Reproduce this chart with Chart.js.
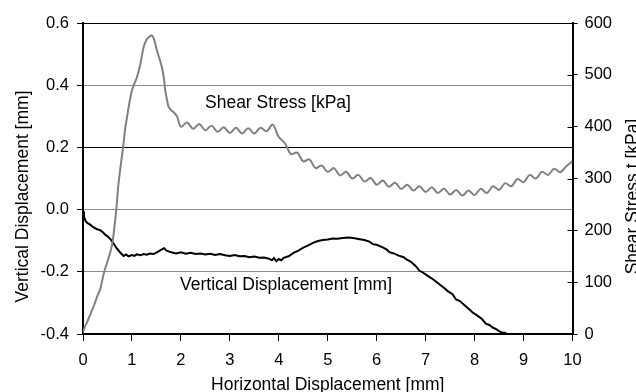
<!DOCTYPE html>
<html>
<head>
<meta charset="utf-8">
<script src="https://cdn.jsdelivr.net/npm/chart.js@4/dist/chart.umd.min.js"></script>
<style>
  html, body { margin: 0; padding: 0; background: #fff; }
  #wrap { width: 636px; height: 392px; position: relative; }
</style>
</head>
<body>
<div id="wrap"><canvas id="shearChart"></canvas></div>
<script>
// horizontal displacement [mm] vs shear stress [kPa]
const shearX = [
    0, 0.03, 0.08, 0.15, 0.22, 0.3, 0.35, 0.43, 0.5, 0.59,
    0.64, 0.68, 0.72, 0.77, 0.82, 0.86, 0.9, 0.95, 1.0, 1.05,
    1.1, 1.17, 1.24, 1.3, 1.36, 1.41, 1.46, 1.51, 1.56, 1.61,
    1.65, 1.68, 1.72, 1.75, 1.8, 1.85, 1.92,
    2.0, 2.125, 2.25, 2.375, 2.5, 2.625, 2.75, 2.875,
    3.0, 3.125, 3.25, 3.375, 3.5, 3.625, 3.75, 3.875,
    4.0, 4.125, 4.25, 4.375, 4.5, 4.625, 4.75, 4.875,
    5.0, 5.125, 5.25, 5.375, 5.5, 5.625, 5.75, 5.875,
    6.0, 6.125, 6.25, 6.375, 6.5, 6.625, 6.75, 6.875,
    7.0, 7.125, 7.25, 7.375, 7.5, 7.625, 7.75, 7.875,
    8.0, 8.125, 8.25, 8.375, 8.5, 8.625, 8.75, 8.875,
    9.0, 9.125, 9.25, 9.375, 9.5, 9.625, 9.75, 9.875,
    10.0
];
const shearY = [
    3, 12, 22, 38, 54, 75, 86, 119, 140, 170,
    205, 240, 285, 325, 361, 395, 419, 447, 470, 483,
    495, 520, 554, 568, 574, 576, 566, 547, 532, 515,
    495, 470, 450, 438, 432, 428, 420,
    400, 408, 396, 405, 393, 402, 390, 399,
    388, 398, 387, 397, 387, 398, 391, 404,
    380, 368, 347, 350, 333, 337, 320, 325,
    313, 320, 306, 313, 300, 307, 294, 301,
    288, 296, 284, 292, 280, 288, 277, 285,
    274, 283, 272, 280, 269, 278, 267, 277,
    268, 280, 272, 285, 278, 291, 285, 299,
    293, 307, 300, 313, 307, 319, 312, 324,
    333
];

// horizontal displacement [mm] vs vertical displacement [mm]
const vertX = [
    0, 0.02, 0.05, 0.08, 0.12, 0.16, 0.2, 0.25, 0.3, 0.35,
    0.4, 0.45, 0.5, 0.56, 0.62, 0.69, 0.76, 0.83, 0.88, 0.93,
    1.0, 1.05, 1.1, 1.17, 1.24, 1.3, 1.37, 1.44, 1.5, 1.56,
    1.62, 1.66, 1.7, 1.76, 1.82, 1.9, 2.0, 2.1, 2.2, 2.3,
    2.4, 2.5, 2.6, 2.7, 2.8, 2.9, 3.0, 3.1, 3.2, 3.3,
    3.4, 3.5, 3.6, 3.7, 3.8, 3.86, 3.9, 3.95, 4.0, 4.05,
    4.1, 4.2, 4.3, 4.4, 4.5, 4.6, 4.71, 4.8, 4.9, 5.0,
    5.1, 5.2, 5.3, 5.44, 5.55, 5.65, 5.75, 5.85, 5.92, 6.0,
    6.1, 6.2, 6.26, 6.35, 6.45, 6.55, 6.6, 6.7, 6.8, 6.87,
    6.95, 7.05, 7.15, 7.28, 7.38, 7.45, 7.55, 7.62, 7.7, 7.8,
    7.9, 7.96, 8.05, 8.15, 8.23, 8.3, 8.38, 8.45, 8.5, 8.56,
    8.62, 8.66
];
const vertY = [
    -0.005, -0.022, -0.036, -0.042, -0.046, -0.050, -0.056, -0.060, -0.064, -0.066,
    -0.072, -0.080, -0.086, -0.095, -0.108, -0.125, -0.138, -0.149, -0.144, -0.150,
    -0.146, -0.149, -0.144, -0.147, -0.143, -0.145, -0.141, -0.143, -0.138, -0.133,
    -0.127, -0.124, -0.131, -0.135, -0.138, -0.141, -0.137, -0.142, -0.139, -0.143,
    -0.141, -0.144, -0.142, -0.146, -0.143, -0.147, -0.149, -0.146, -0.150, -0.149,
    -0.153, -0.151, -0.155, -0.154, -0.158, -0.163, -0.156, -0.166, -0.159, -0.163,
    -0.155, -0.150, -0.139, -0.132, -0.122, -0.115, -0.106, -0.101, -0.098, -0.096,
    -0.093, -0.094, -0.091, -0.090, -0.092, -0.095, -0.098, -0.103, -0.111, -0.113,
    -0.120, -0.128, -0.137, -0.141, -0.148, -0.153, -0.159, -0.168, -0.182, -0.196,
    -0.203, -0.214, -0.224, -0.240, -0.252, -0.262, -0.272, -0.289, -0.294, -0.308,
    -0.322, -0.331, -0.340, -0.352, -0.367, -0.371, -0.380, -0.385, -0.391, -0.395,
    -0.396, -0.400
];

const seriesLabels = ['Shear Stress [kPa]', 'Vertical Displacement [mm]'];
const xTitle = 'Horizontal Displacement [mm]';
const yTitle = 'Vertical Displacement [mm]';
const y1Title = 'Shear Stress t [kPa]';

const FONT = '"Liberation Sans", Arial, sans-serif';

const toPoints = (xs, ys) => xs.map((x, i) => ({ x: x, y: ys[i] }));

// inline series labels, axis titles and the inner half of the right ticks
const overlay = {
    id: 'overlay',
    afterDraw(chart) {
        const { ctx, chartArea, scales } = chart;
        ctx.save();
        ctx.strokeStyle = '#000';
        ctx.lineWidth = 1;
        scales.y1.ticks.forEach(t => {
            const py = Math.round(scales.y1.getPixelForValue(t.value)) + 0.5;
            ctx.beginPath();
            ctx.moveTo(chartArea.right - 5, py);
            ctx.lineTo(chartArea.right, py);
            ctx.stroke();
        });

        ctx.fillStyle = '#000';
        ctx.font = '17.5px ' + FONT;
        ctx.textBaseline = 'alphabetic';
        ctx.textAlign = 'left';
        ctx.fillText(seriesLabels[0], 205, 108);
        ctx.fillText(seriesLabels[1], 180, 290);

        ctx.textAlign = 'center';
        ctx.fillText(xTitle, (chartArea.left + chartArea.right) / 2, 390);

        ctx.save();
        ctx.translate(27.5, 196.5);
        ctx.rotate(-Math.PI / 2);
        ctx.fillText(yTitle, 0, 0);
        ctx.restore();

        ctx.save();
        ctx.translate(637.5, 196.5);
        ctx.rotate(-Math.PI / 2);
        ctx.fillText(y1Title, 0, 0);
        ctx.restore();
        ctx.restore();
    }
};

const ctx = document.getElementById('shearChart').getContext('2d');

new Chart(ctx, {
    type: 'line',
    data: {
        datasets: [
            {
                label: seriesLabels[0],
                data: toPoints(shearX, shearY),
                yAxisID: 'y1',
                borderColor: '#808080',
                borderWidth: 2,
                pointRadius: 0,
                tension: 0.35
            },
            {
                label: seriesLabels[1],
                data: toPoints(vertX, vertY),
                yAxisID: 'y',
                borderColor: '#000',
                borderWidth: 2,
                pointRadius: 0,
                tension: 0
            }
        ]
    },
    options: {
        responsive: true,
        maintainAspectRatio: false,
        animation: false,
        layout: { padding: { top: 23, right: 0, bottom: 0, left: 0 } },
        plugins: {
            legend: { display: false },
            tooltip: { enabled: false }
        },
        scales: {
            x: {
                type: 'linear',
                min: 0,
                max: 10,
                ticks: {
                    stepSize: 1,
                    color: '#000',
                    padding: 10,
                    maxRotation: 0,
                    font: { family: FONT, size: 16.5 }
                },
                grid: { drawOnChartArea: false, tickLength: 7, tickColor: '#000' },
                border: { color: '#000', width: 2 },
                afterFit: s => { s.height = 58; }
            },
            y: {
                position: 'left',
                min: -0.4,
                max: 0.6,
                ticks: {
                    stepSize: 0.2,
                    color: '#000',
                    padding: 8,
                    font: { family: FONT, size: 16.5 },
                    callback: v => v.toFixed(1)
                },
                grid: {
                    drawOnChartArea: true,
                    tickLength: 6,
                    tickColor: '#000',
                    lineWidth: 1,
                    color: c => {
                        const v = c.tick ? c.tick.value : 0;
                        return (Math.abs(v - 0.2) < 1e-6 || v > 0.59) ? '#000' : '#8a8a8a';
                    }
                },
                border: { color: '#000', width: 2 },
                afterFit: s => { s.width = 83; }
            },
            y1: {
                position: 'right',
                min: 0,
                max: 600,
                ticks: {
                    stepSize: 100,
                    color: '#000',
                    padding: 7,
                    font: { family: FONT, size: 16.5 }
                },
                grid: { drawOnChartArea: false, tickLength: 5, tickColor: '#000' },
                border: { color: '#000', width: 2 },
                afterFit: s => { s.width = 63.5; }
            }
        }
    },
    plugins: [overlay]
});
</script>
</body>
</html>
